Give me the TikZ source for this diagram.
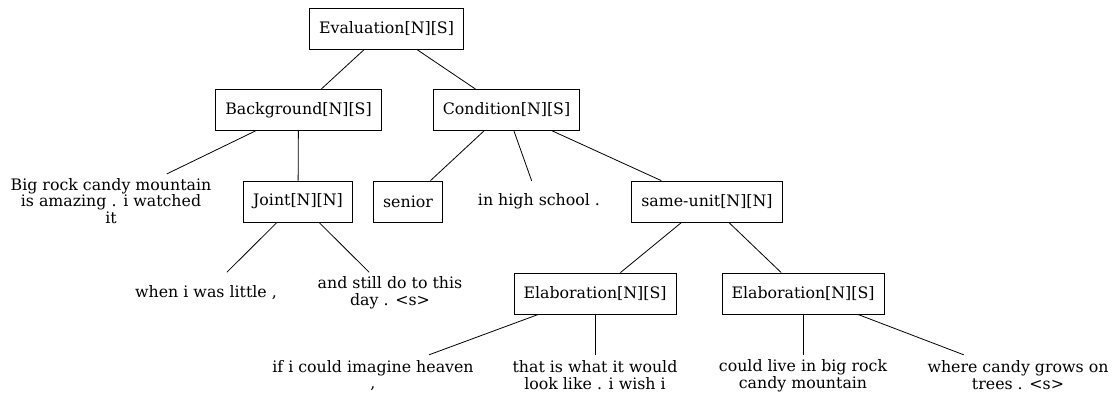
\documentclass[tikz,border=0pt]{standalone}
\usepackage{fontspec}
\setmainfont{DejaVu Serif}
\usepackage{tikz}

\tikzset{
  relbox/.style={draw, line width=0.8pt, minimum height=41pt, inner xsep=9.5pt, inner ysep=3pt},
  edutext/.style={align=center, minimum height=41pt, inner xsep=2pt, inner ysep=4pt},
  treeline/.style={line width=0.8pt}
}

\begin{document}
\begin{tikzpicture}[x=1pt,y=-1pt,font=\fontsize{15.8}{16.8}\selectfont]
\useasboundingbox (0,0) rectangle (1118,397);

%Shape: Rectangle [relation nodes]
\node [relbox] (eval) at (386.5,29) {Evaluation[N][S]};
\node [relbox] (bg) at (298.5,110) {Background[N][S]};
\node [relbox] (cond) at (506.5,110) {Condition[N][S]};
\node [relbox] (joint) at (298,201.5) {Joint[N][N]};
\node [relbox] (senior) at (408,201.5) {senior};
\node [relbox] (same) at (707,201.5) {same-unit[N][N]};
\node [relbox] (elabA) at (595,293.5) {Elaboration[N][S]};
\node [relbox] (elabB) at (803,293.5) {Elaboration[N][S]};

% Text Node
\node [edutext] (bigrock) at (111,201) {Big rock candy mountain\\is amazing . i watched\\it};
% Text Node
\node [edutext] (school) at (539,201.5) {in high school .};
% Text Node
\node [edutext] (little) at (206,293) {when i was little ,};
% Text Node
\node [edutext] (still) at (390,293) {and still do to this\\day . <s>};
% Text Node
\node [edutext] (heaven) at (373,375.5) {if i could imagine heaven\\,};
% Text Node
\node [edutext] (wish) at (595,375.5) {that is what it would\\look like . i wish i};
% Text Node
\node [edutext] (live) at (803,375.5) {could live in big rock\\candy mountain};
% Text Node
\node [edutext] (trees) at (1018,375.5) {where candy grows on\\trees . <s>};

%Straight Lines
\draw [treeline] (eval) -- (bg);
\draw [treeline] (eval) -- (cond);
\draw [treeline] (bg) -- (bigrock);
\draw [treeline] (bg) -- (joint);
\draw [treeline] (joint) -- (little);
\draw [treeline] (joint) -- (still);
\draw [treeline] (cond) -- (senior);
\draw [treeline] (cond) -- (school);
\draw [treeline] (cond) -- (same);
\draw [treeline] (same) -- (elabA);
\draw [treeline] (same) -- (elabB);
\draw [treeline] (elabA) -- (heaven);
\draw [treeline] (elabA) -- (wish);
\draw [treeline] (elabB) -- (live);
\draw [treeline] (elabB) -- (trees);

\end{tikzpicture}
\end{document}
